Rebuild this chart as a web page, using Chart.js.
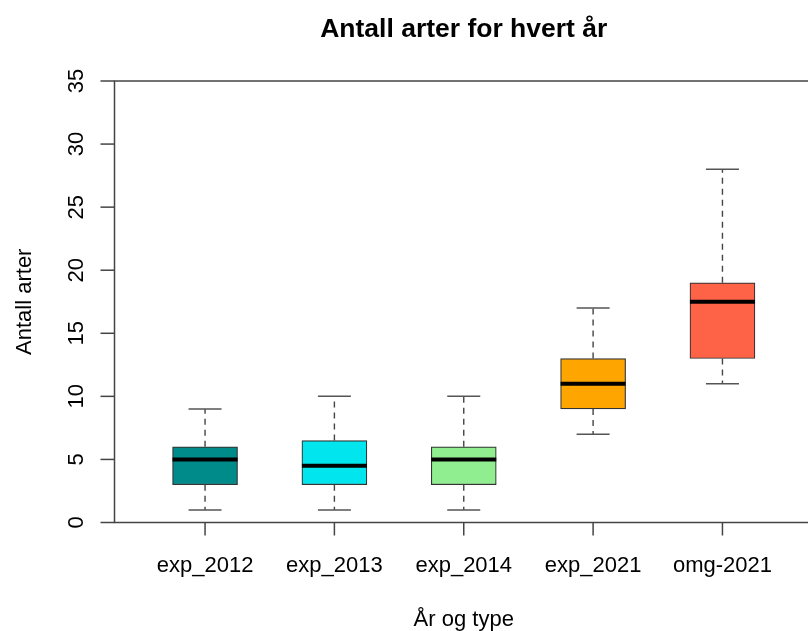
<!DOCTYPE html>
<html>
<head>
<meta charset="utf-8">
<script src="https://cdn.jsdelivr.net/npm/chart.js@4.4.1/dist/chart.umd.min.js"></script>
<style>
  html, body { margin: 0; padding: 0; background: #fff; overflow: hidden; }
  #wrap { width: 808px; height: 631px; overflow: hidden; position: relative; }
  canvas { display: block; }
</style>
</head>
<body>
<div id="wrap"><canvas id="c" width="830" height="631" style="width:830px;height:631px"></canvas></div>
<script>
// Species counts per year and survey type (box-and-whisker summaries)
const categories = ['exp_2012', 'exp_2013', 'exp_2014', 'exp_2021', 'omg-2021'];
const whiskerLow  = [1, 1, 1, 7, 11];
const quartile1   = [3, 3, 3, 9, 13];
const medians     = [5, 4.5, 5, 11, 17.5];
const quartile3   = [6, 6.5, 6, 13, 19];
const whiskerHigh = [9, 10, 10, 17, 28];
const boxColors   = ['#008B8B', '#00E5EE', '#90EE90', '#FFA500', '#FF6347'];
const yTicks      = [0, 5, 10, 15, 20, 25, 30, 35];

const titleText = 'Antall arter for hvert år';
const xTitle = 'År og type';
const yTitle = 'Antall arter';

const FONT = '"Liberation Sans", Arial, Helvetica, sans-serif';

const boxData = categories.map((c, i) => ({ x: i + 1, y: [quartile1[i], quartile3[i]] }));

// Draws whiskers, medians, the plot frame, axes and all text
const boxplotDecor = {
  id: 'boxplotDecor',
  afterDatasetsDraw(chart) {
    const ctx = chart.ctx;
    const xs = chart.scales.x, ys = chart.scales.y;
    const area = chart.chartArea;
    ctx.save();

    categories.forEach((c, i) => {
      const cx = xs.getPixelForValue(i + 1);
      const half = 32.5, capHalf = 16.5;
      const yLo = ys.getPixelForValue(whiskerLow[i]);
      const yQ1 = ys.getPixelForValue(quartile1[i]);
      const yQ3 = ys.getPixelForValue(quartile3[i]);
      const yHi = ys.getPixelForValue(whiskerHigh[i]);
      const yMed = ys.getPixelForValue(medians[i]);

      // dashed whiskers
      ctx.strokeStyle = '#444';
      ctx.lineWidth = 1.4;
      ctx.setLineDash([6, 5]);
      ctx.beginPath();
      ctx.moveTo(cx, yQ3); ctx.lineTo(cx, yHi);
      ctx.moveTo(cx, yQ1); ctx.lineTo(cx, yLo);
      ctx.stroke();
      ctx.setLineDash([]);

      // whisker caps
      ctx.strokeStyle = '#555';
      ctx.lineWidth = 1.5;
      ctx.beginPath();
      ctx.moveTo(cx - capHalf, yHi); ctx.lineTo(cx + capHalf, yHi);
      ctx.moveTo(cx - capHalf, yLo); ctx.lineTo(cx + capHalf, yLo);
      ctx.stroke();

      // median line
      ctx.strokeStyle = '#000';
      ctx.lineWidth = 4;
      ctx.beginPath();
      ctx.moveTo(cx - half, yMed); ctx.lineTo(cx + half, yMed);
      ctx.stroke();
    });

    // plot frame
    ctx.strokeStyle = '#444';
    ctx.lineWidth = 1.5;
    ctx.strokeRect(area.left, area.top, area.right - area.left, area.bottom - area.top);

    // y ticks and labels (rotated, R style)
    ctx.fillStyle = '#000';
    ctx.font = '22px ' + FONT;
    yTicks.forEach(v => {
      const py = ys.getPixelForValue(v);
      ctx.beginPath();
      ctx.moveTo(area.left - 14, py); ctx.lineTo(area.left, py);
      ctx.stroke();
      ctx.save();
      ctx.translate(83, py);
      ctx.rotate(-Math.PI / 2);
      ctx.textAlign = 'center';
      ctx.textBaseline = 'alphabetic';
      ctx.fillText(String(v), 0, 0);
      ctx.restore();
    });

    // x ticks and labels
    categories.forEach((c, i) => {
      const px = xs.getPixelForValue(i + 1);
      ctx.beginPath();
      ctx.moveTo(px, area.bottom); ctx.lineTo(px, area.bottom + 13);
      ctx.stroke();
      ctx.textAlign = 'center';
      ctx.textBaseline = 'alphabetic';
      ctx.fillText(c, px, 572);
    });

    const midX = (area.left + area.right) / 2;
    const midY = (area.top + area.bottom) / 2;

    // axis titles
    ctx.textAlign = 'center';
    ctx.fillText(xTitle, midX, 626);
    ctx.save();
    ctx.translate(31, midY);
    ctx.rotate(-Math.PI / 2);
    ctx.fillText(yTitle, 0, 0);
    ctx.restore();

    // main title
    ctx.font = 'bold 26.5px ' + FONT;
    ctx.fillText(titleText, midX, 37);

    ctx.restore();
  }
};

new Chart(document.getElementById('c'), {
  type: 'bar',
  data: {
    datasets: [{
      data: boxData,
      backgroundColor: boxColors,
      borderColor: '#333',
      borderWidth: 1.2,
      borderSkipped: false,
      barThickness: 65
    }]
  },
  options: {
    responsive: false,
    maintainAspectRatio: false,
    animation: false,
    devicePixelRatio: 1,
    layout: { padding: { left: 114.5, top: 81, right: 17, bottom: 108.5 } },
    plugins: { legend: { display: false }, tooltip: { enabled: false }, title: { display: false } },
    scales: {
      x: { type: 'linear', min: 0.3, max: 5.7, offset: false, grid: { offset: false }, display: false },
      y: { type: 'linear', min: 0, max: 35, display: false }
    }
  },
  plugins: [boxplotDecor]
});
</script>
</body>
</html>
